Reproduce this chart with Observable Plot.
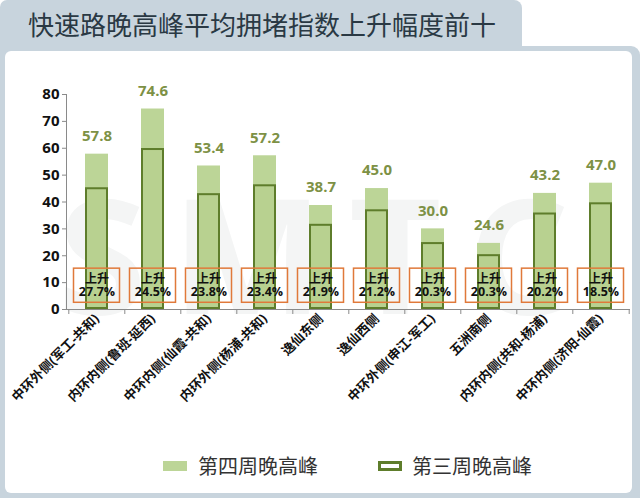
<!DOCTYPE html>
<html>
<head>
<meta charset="utf-8">
<script src="https://cdn.jsdelivr.net/npm/d3@7"></script>
<script src="https://cdn.jsdelivr.net/npm/@observablehq/plot@0.6"></script>
<style>
  html, body { margin: 0; padding: 0; background: #ffffff; }
  #wrap { position: relative; width: 640px; height: 498px; overflow: hidden; background: #fff;
          font-family: "Open Sans", "Noto Sans CJK SC", sans-serif; }
  #tab { position: absolute; left: 0; top: 0; width: 522px; height: 56px; background: #c8d4dd;
         border-radius: 7px 8px 0 0; }
  #title { position: absolute; left: 28px; top: 5px; font-size: 26px; color: #2a3944;
           font-family: "Noto Sans CJK SC", sans-serif; }
  #frame { position: absolute; left: 0; top: 46px; width: 640px; height: 452px; background: #c8d4dd;
           border-radius: 0 9px 0 0; }
  #panel { position: absolute; left: 5px; top: 51px; width: 627px; height: 442px; background: #fff;
           border-radius: 6px; }
  #wm { position: absolute; left: 58px; top: 172px; font-size: 160px; font-weight: 700; color: #f4f5f5;
        letter-spacing: 26px; font-family: "Open Sans", sans-serif; line-height: 1; white-space: nowrap; }
  #chart { position: absolute; left: 0; top: 60px; }
  #legend { position: absolute; left: 0; top: 452px; width: 640px; height: 30px;
            font-family: "Noto Sans CJK SC", sans-serif; font-size: 20px; color: #333; }
  .sw { position: absolute; top: 9px; width: 24px; height: 10px; box-sizing: border-box; }
  .lt { position: absolute; top: -1px; line-height: 30px; }
</style>
</head>
<body>
<div id="wrap">
  <div id="tab"></div>
  <div id="frame"></div>
  <div id="panel"></div>
  <div id="title">快速路晚高峰平均拥堵指数上升幅度前十</div>
  <div id="wm">SMTC</div>
  <div id="chart"></div>
  <div id="legend">
    <div class="sw" style="left:163px;background:#bcd597;"></div>
    <div class="lt" style="left:198px;">第四周晚高峰</div>
    <div class="sw" style="left:378px;border:3px solid #5e7d2b;background:#fff;"></div>
    <div class="lt" style="left:412px;">第三周晚高峰</div>
  </div>
</div>
<script>
const names = ["中环外侧(军工-共和)", "内环内侧(鲁班-延西)", "中环内侧(仙霞-共和)", "内环外侧(杨浦-共和)",
  "逸仙东侧", "逸仙西侧", "中环外侧(申江-军工)", "五洲南侧", "内环内侧(共和-杨浦)", "中环内侧(济阳-仙霞)"];
const week4 = [57.8, 74.6, 53.4, 57.2, 38.7, 45.0, 30.0, 24.6, 43.2, 47.0];
const week3 = [45.3, 59.9, 43.1, 46.4, 31.7, 37.1, 24.9, 20.4, 35.9, 39.7];
const rise = ["27.7%", "24.5%", "23.8%", "23.4%", "21.9%", "21.2%", "20.3%", "20.3%", "20.2%", "18.5%"];
const riseWord = "上升";
const yTicks = [0, 10, 20, 30, 40, 50, 60, 70, 80];

const data = names.map((n, i) => ({name: n, w4: week4[i], w3: week3[i], rise: rise[i]}));

const W = 640, H = 370, mL = 66, mR = 10, mT = 34, mB = 121;
const step = (W - mL - mR) / names.length;

const chart = Plot.plot({
  width: W, height: H,
  marginLeft: mL, marginRight: mR, marginTop: mT, marginBottom: mB,
  style: {background: "transparent", fontFamily: "'Open Sans', 'Noto Sans CJK SC', sans-serif", color: "#111"},
  x: {domain: names, paddingInner: 0.59, paddingOuter: 0.295},
  y: {domain: [0, 80]},
  marks: [
    Plot.barY(data, {x: "name", y: "w4", fill: "#bcd597"}),
    Plot.barY(data, {x: "name", y: "w3", fill: "#b8d190", stroke: "#5e7d2b", strokeWidth: 2, inset: 1}),
    Plot.barY(data, {x: "name", y1: 2.5, y2: 15.2, fill: "none", stroke: "#e0793a", strokeWidth: 1.5,
      insetLeft: -11.5, insetRight: -11.5}),
    Plot.text(data, {x: "name", y: 8.85, text: () => riseWord, dy: -6.5,
      fontSize: 12, fontWeight: "bold", fill: "#111", fontFamily: "'Noto Sans CJK SC', sans-serif"}),
    Plot.text(data, {x: "name", y: 8.85, text: "rise", dy: 6.5,
      fontSize: 12.5, fontWeight: "bold", fill: "#111"}),
    Plot.text(data, {x: "name", y: "w4", text: d => d.w4.toFixed(1), dy: -18,
      fontSize: 15, fontWeight: "bold", fill: "#7d9145"}),
    Plot.frame({anchor: "left", stroke: "#8a8a8a"}),
    Plot.ruleY([0], {stroke: "#8a8a8a"}),
    Plot.ruleX(names, {x: d => d, y1: 0, y2: 0, dx: -step / 2, insetBottom: -5, stroke: "#8a8a8a"}),
    Plot.ruleX([names[names.length - 1]], {x: d => d, y1: 0, y2: 0, dx: step / 2, insetBottom: -5, stroke: "#8a8a8a"}),
    Plot.axisY({ticks: yTicks, tickSize: 4, tickPadding: 3, fontSize: 15, fontWeight: "bold", stroke: "#8a8a8a", color: "#111", label: null}),
    Plot.axisX({tickSize: 0, tickRotate: -45, tickPadding: 7, fontSize: 13, fontWeight: "bold", label: null, fill: "#111"})
  ]
});
document.getElementById("chart").appendChild(chart);
</script>
</body>
</html>
